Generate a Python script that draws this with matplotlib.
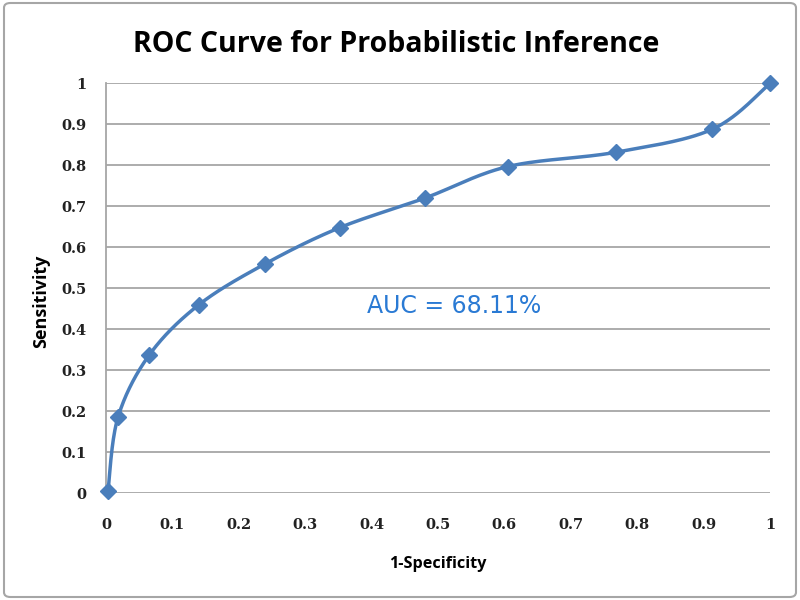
import matplotlib
matplotlib.use("Agg")
import matplotlib.pyplot as plt
import numpy as np
from matplotlib.patches import FancyBboxPatch

fpr = [0.003, 0.018, 0.065, 0.140, 0.240, 0.352, 0.480, 0.605, 0.768, 0.913, 1.000]
tpr = [0.005, 0.185, 0.337, 0.460, 0.560, 0.648, 0.720, 0.797, 0.832, 0.888, 1.000]
ticks = [0, 0.1, 0.2, 0.3, 0.4, 0.5, 0.6, 0.7, 0.8, 0.9, 1]
tick_labels = ["0", "0.1", "0.2", "0.3", "0.4", "0.5", "0.6", "0.7", "0.8", "0.9", "1"]
title = "ROC Curve for Probabilistic Inference"
auc_text = "AUC = 68.11%"

LINE = "#4a7ebb"


def smooth(xs, ys, n=30):
    """Excel-like smooth line: cubic Bezier segments with Catmull-Rom control points."""
    P = np.column_stack([xs, ys]).astype(float)
    out = []
    for i in range(len(P) - 1):
        p0 = P[i - 1] if i > 0 else P[i]
        p1 = P[i]
        p2 = P[i + 1]
        p3 = P[i + 2] if i + 2 < len(P) else P[i + 1]
        c1 = p1 + (p2 - p0) / 6.0
        c2 = p2 - (p3 - p1) / 6.0
        t = np.linspace(0, 1, n)[:, None]
        seg = ((1 - t) ** 3) * p1 + 3 * ((1 - t) ** 2) * t * c1 + 3 * (1 - t) * t ** 2 * c2 + t ** 3 * p2
        out.append(seg if i == 0 else seg[1:])
    S = np.vstack(out)
    return S[:, 0], S[:, 1]


fig = plt.figure(figsize=(8, 6), dpi=100)
fig.patch.set_facecolor("white")
border = FancyBboxPatch((0.005, 0.005), 0.99, 0.99, boxstyle="round,pad=0,rounding_size=0.008",
                        transform=fig.transFigure, facecolor="none", edgecolor="#a6a6a6",
                        linewidth=1.5, zorder=0)
fig.patches.append(border)

ax = fig.add_axes([0.1325, 0.178, 0.83, 0.683])
ax.set_facecolor("none")
ax.set_xlim(0, 1)
ax.set_ylim(0, 1)
ax.set_xticks(ticks)
ax.set_xticklabels(tick_labels)
ax.set_yticks(ticks)
ax.set_yticklabels(tick_labels)
ax.grid(axis="y", color="#a6a6a6", linewidth=1.3)
ax.set_axisbelow(True)
for s in ["top", "right", "bottom"]:
    ax.spines[s].set_visible(False)
ax.spines["left"].set_color("#a6a6a6")
ax.spines["left"].set_linewidth(1.3)
ax.tick_params(length=0, pad=10)
for lab in ax.get_xticklabels() + ax.get_yticklabels():
    lab.set_fontfamily("DejaVu Serif")
    lab.set_fontsize(10.5)
    lab.set_fontweight("bold")
    lab.set_color("#222222")
ax.tick_params(axis="x", pad=18)
ax.tick_params(axis="y", pad=14)

sx, sy = smooth(fpr, tpr)
ax.plot(sx, sy, color=LINE, linewidth=2.5, solid_capstyle="round", clip_on=False, zorder=3)
ax.plot(fpr, tpr, linestyle="none", marker="D", markersize=8, color=LINE, clip_on=False, zorder=4)

ax.text(0.393, 0.456, auc_text, color="#2a7ad4", fontsize=17, family="DejaVu Sans",
        ha="left", va="center")

ax.set_xlabel("1-Specificity", fontsize=11.7, fontweight="bold", family="Open Sans", labelpad=17)
ax.set_ylabel("Sensitivity", fontsize=13, fontweight="bold", family="Open Sans")
ax.yaxis.set_label_coords(-0.084, 0.469)

fig.text(0.495, 0.925, title, ha="center", va="center", fontsize=20.5, fontweight="bold",
         family="Open Sans")

fig.savefig("out.png", dpi=100)
